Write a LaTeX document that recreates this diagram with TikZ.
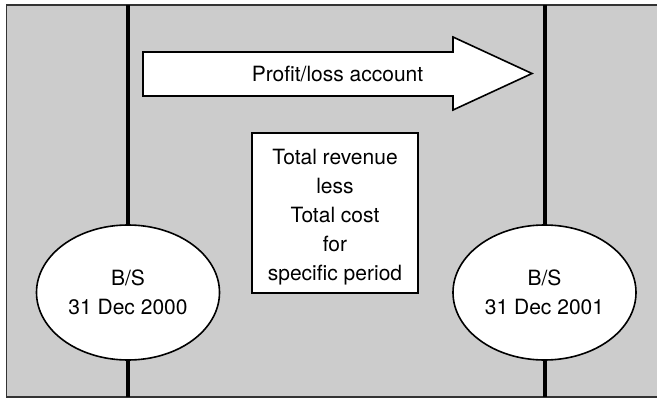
\documentclass[tikz,border=0pt]{standalone}
\usepackage{fontspec}
\setmainfont{TeX Gyre Heros}
\usepackage{tikz}
\usetikzlibrary{positioning, calc, shapes.geometric}
\usepackage{xcolor}
\definecolor{panelgray}{HTML}{CCCCCC}
\tikzset{
  bsnode/.style={ellipse, draw=black, fill=white, line width=1.6pt,
                 minimum width=183pt, minimum height=135pt, inner sep=0pt,
                 align=center},
  calcbox/.style={rectangle, draw=black, fill=white, line width=1.8pt,
                  minimum width=166pt, minimum height=160pt},
  divider/.style={line width=4pt, black},
  frame/.style={line width=1.5pt, draw=black!80},
  arrowbody/.style={draw=black, fill=white, line width=1.6pt, line join=miter},
}

\begin{document}
\begin{tikzpicture}[x=1pt, y=-1pt,
  every node/.style={font=\fontsize{21}{29}\selectfont}]
\useasboundingbox (0,0) rectangle (657,399);
% panel
\fill[panelgray] (6.5,5) rectangle (657,397);
\draw[frame] (657,5) -- (6.5,5) -- (6.5,397) -- (657,397);

% balance sheets
\node[bsnode] (bsold) at (128,292.5) {B/S\\31 Dec 2000};
\node[bsnode] (bsnew) at (544.5,292.5) {B/S\\31 Dec 2001};
\coordinate (oldtop) at (128,5);
\coordinate (oldbot) at (128,397);
\coordinate (newtop) at (544.5,5);
\coordinate (newbot) at (544.5,397);
\draw[divider] (oldtop) -- (bsold.north);
\draw[divider] (bsold.south) -- (oldbot);
\draw[divider] (newtop) -- (bsnew.north);
\draw[divider] (bsnew.south) -- (newbot);

% profit/loss arrow
\draw[arrowbody] (143,52) -- (453,52) -- (453,37) -- (532,73.5)
  -- (453,110) -- (453,96) -- (143,96) -- cycle;
\node (pl) at (337.5,74) {Profit/loss account};

\node[calcbox] (calc) at (335,213) {};
\node[align=center] (calctext) at ($(calc.center)+(0,4.5)$)
  {Total revenue\\less\\Total cost\\for\\specific period};
\end{tikzpicture}
\end{document}
